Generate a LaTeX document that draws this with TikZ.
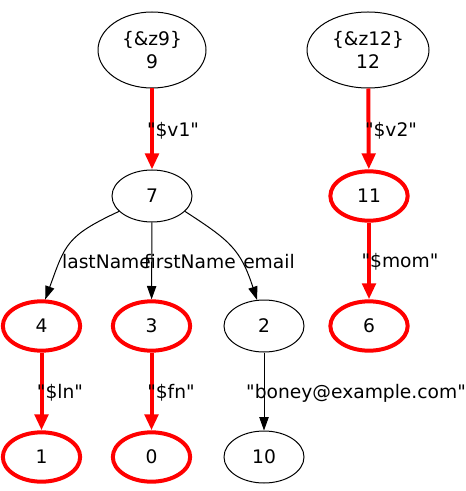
\documentclass[tikz,border=0pt]{standalone}
\usepackage{fontspec}
\setmainfont{DejaVu Sans}[Ligatures=TeXOff]
\usetikzlibrary{shapes.geometric,arrows.meta}
\begin{document}
\begin{tikzpicture}[x=0.75pt,y=-0.75pt,
  every node/.style={font=\fontsize{14}{17}\selectfont},
  gnode/.style={ellipse, draw=black, line width=0.75pt, inner sep=0pt, minimum width=60pt, minimum height=39pt},
  rnode/.style={gnode, draw=red, line width=3pt, minimum width=58pt, minimum height=37pt},
  topnode/.style={gnode, align=center, minimum height=57pt},
  bedge/.style={draw=black, line width=0.75pt, -{Triangle[length=10pt,width=7pt]}},
  redge/.style={draw=red, line width=3pt, -{Triangle[length=12pt,width=10pt]}},
  elabel/.style={anchor=base, inner sep=0pt}
]
\useasboundingbox (0,0) rectangle (465,491);
\node[topnode, minimum width=81pt] (z9) at (152,50) {\{\&z9\}\\9};
\node[topnode, minimum width=91.5pt] (z12) at (368,50) {\{\&z12\}\\12};
\node[gnode] (n7) at (152,196) {7};
\node[rnode] (n11) at (369,196) {11};
\node[rnode] (n4) at (41.5,326) {4};
\node[rnode] (n3) at (151.5,326) {3};
\node[gnode] (n2) at (264,326) {2};
\node[rnode] (n6) at (369,326) {6};
\node[rnode] (n1) at (41.5,457) {1};
\node[rnode] (n0) at (151.5,457) {0};
\node[gnode] (n10) at (264,457) {10};

\draw[redge] (z9) -- (n7);
\draw[redge] (z12) -- (n11);
\draw[redge] (n11) -- (n6);
\draw[redge] (n4) -- (n1);
\draw[redge] (n3) -- (n0);
\draw[bedge] (n2) -- (n10);
\draw[bedge] (n7) -- (n3);
\draw[bedge] (n7.-155) to[out=-155,in=70,looseness=1.3] (n4.82);
\draw[bedge] (n7.-25) to[out=-33,in=108,looseness=1.2] (n2.105);

\node[elabel] (lv1) at (173,137) {"\$v1"};
\node[elabel] (lv2) at (391,137) {"\$v2"};
\node[elabel] (lmom) at (400,267) {"\$mom"};
\node[elabel] (llast) at (106.5,268) {lastName};
\node[elabel] (lfirst) at (190,268) {firstName};
\node[elabel] (lemail) at (269,268) {email};
\node[elabel] (lln) at (60,398) {"\$ln"};
\node[elabel] (lfn) at (171,398) {"\$fn"};
\node[elabel] (lboney) at (356,398) {"boney@example.com"};
\end{tikzpicture}
\end{document}
